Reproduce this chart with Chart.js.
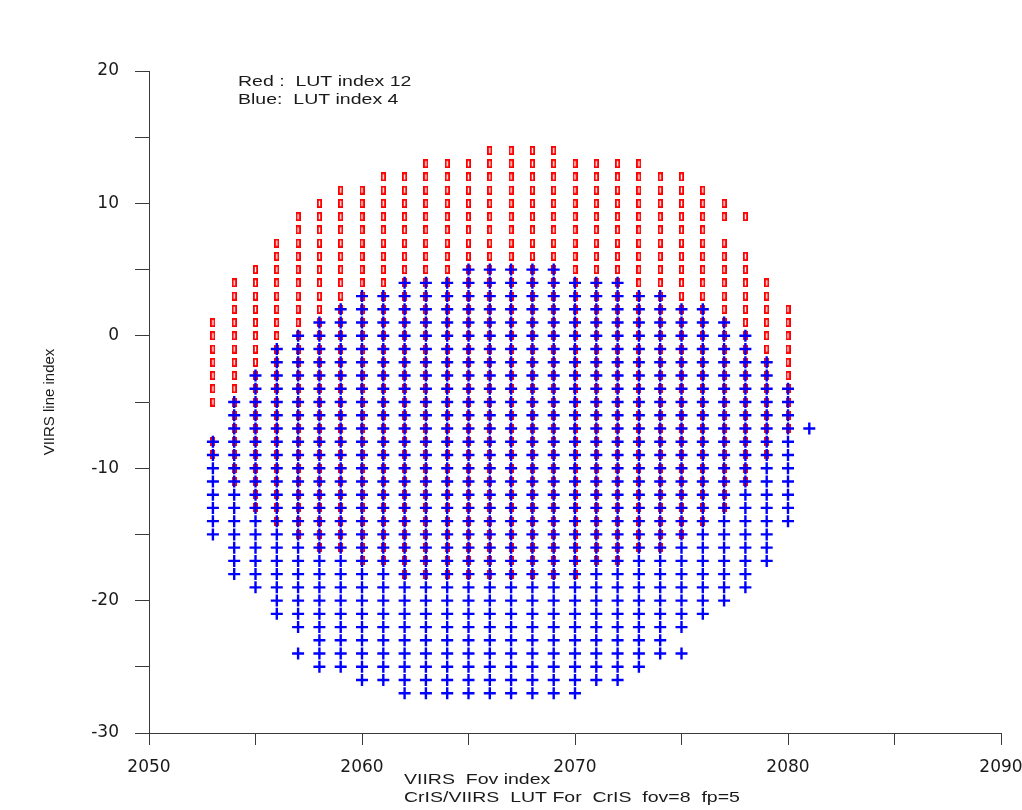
<!DOCTYPE html>
<html>
<head>
  <title>CrIS/VIIRS LUT</title>
  <script src="https://cdn.jsdelivr.net/npm/chart.js"></script>
  <style>
    body { margin: 0; background: #fff; }
    #wrap { width: 1022px; height: 810px; position: relative; }
  </style>
</head>
<body>
  <div id="wrap"><canvas id="chart"></canvas></div>

  <script>

// VIIRS fov index of each column of points
const fovIndex = [2053, 2054, 2055, 2056, 2057, 2058, 2059, 2060, 2061, 2062,
                  2063, 2064, 2065, 2066, 2067, 2068, 2069, 2070, 2071, 2072,
                  2073, 2074, 2075, 2076, 2077, 2078, 2079, 2080, 2081];

// line index runs [from, to] (every line in between is filled) per column
const redRuns = [
  [[-9, -8], [-5, 1]], [[-11, 4]], [[-13, 5]], [[-14, 7]], [[-15, 9]],
  [[-16, 10]], [[-16, 11]], [[-17, 11]], [[-17, 12]], [[-18, 12]],
  [[-18, 13]], [[-18, 13]], [[-18, 13]], [[-18, 14]], [[-18, 14]],
  [[-18, 14]], [[-18, 14]], [[-18, 13]], [[-17, 13]], [[-17, 13]],
  [[-16, 13]], [[-16, 12]], [[-15, 12]], [[-14, 11]], [[-13, 7], [9, 10]],
  [[-11, 6], [9, 9]], [[-9, 4]], [[-7, 2]], []
];
const blueRuns = [
  [[-15, -8]], [[-18, -5]], [[-19, -3]], [[-21, -1]], [[-24, -24], [-22, 0]],
  [[-25, 1]], [[-25, 2]], [[-26, 3]], [[-26, 3]], [[-27, 4]],
  [[-27, 4]], [[-27, 4]], [[-27, 5]], [[-27, 5]], [[-27, 5]],
  [[-27, 5]], [[-27, 5]], [[-27, 4]], [[-26, 4]], [[-26, 4]],
  [[-25, 3]], [[-24, 3]], [[-24, -24], [-22, 2]], [[-21, 2]], [[-20, 1]],
  [[-19, 0]], [[-17, -2]], [[-14, -4]], [[-7, -7]]
];

const legendLines = ['Red :  LUT index 12', 'Blue:  LUT index 4'];
const xTitleLines = ['VIIRS  Fov index', 'CrIS/VIIRS  LUT For  CrIS  fov=8  fp=5'];
const yTitle = 'VIIRS line index';

function toPoints(runs) {
  let pts = [];
  runs.forEach((col, i) => {
    col.forEach(r => {
      for (let y = r[0]; y <= r[1]; y++) pts.push({ x: fovIndex[i], y: y });
    });
  });
  return pts;
}

// small hollow red box used as marker
const redMark = document.createElement('canvas');
redMark.width = 5;
redMark.height = 9;
const m = redMark.getContext('2d');
m.strokeStyle = 'rgb(255,0,0)';
m.lineWidth = 1.8;
m.strokeRect(0.9, 0.9, 3.2, 7.2);

const axisColor = '#3a3a3a';
const tickFont = { family: '"DejaVu Sans"', size: 17 };

// the original picture is a bit wider than tall, so text is drawn stretched
const textStretch = 1.3;

const textPlugin = {
  id: 'textPlugin',
  afterDraw(chart) {
    const { ctx, chartArea: a } = chart;
    ctx.save();
    ctx.fillStyle = '#1a1a1a';
    ctx.font = '15px "Liberation Sans"';
    ctx.textAlign = 'left';
    ctx.textBaseline = 'middle';
    const put = (t, x, y) => {
      ctx.save();
      ctx.translate(x, y);
      ctx.scale(textStretch, 1);
      ctx.fillText(t, 0, 0);
      ctx.restore();
    };
    legendLines.forEach((t, i) => put(t, a.left + 89, a.top + 11 + i * 18));
    xTitleLines.forEach((t, i) => put(t, a.left + 255, a.bottom + 47 + i * 18));
    ctx.restore();
  }
};

new Chart(document.getElementById('chart'), {
  type: 'scatter',
  data: {
    datasets: [
      {
        label: 'Blue: LUT index 4',
        data: toPoints(blueRuns),
        pointStyle: 'cross',
        radius: 6,
        borderWidth: 2.4,
        borderColor: 'rgb(0,0,255)',
        order: 0
      },
      {
        label: 'Red: LUT index 12',
        data: toPoints(redRuns),
        pointStyle: redMark,
        order: 1
      }
    ]
  },
  options: {
    responsive: true,
    maintainAspectRatio: false,
    animation: false,
    events: [],
    layout: { padding: { top: 71, right: 21, left: 0, bottom: 0 } },
    plugins: {
      legend: { display: false },
      tooltip: { enabled: false }
    },
    scales: {
      x: {
        type: 'linear',
        min: 2050,
        max: 2090,
        afterFit: s => { s.height = 77; s.paddingLeft = 0; s.paddingRight = 0; },
        border: { display: true, color: axisColor, width: 1 },
        grid: { display: true, drawOnChartArea: false, drawTicks: true, tickLength: 12, color: axisColor },
        ticks: {
          stepSize: 5,
          autoSkip: false,
          maxRotation: 0,
          padding: 12,
          color: '#1a1a1a',
          font: tickFont,
          callback: v => (v % 10 === 0 ? v : '')
        }
      },
      y: {
        type: 'linear',
        min: -30,
        max: 20,
        afterFit: s => { s.width = 149; s.paddingTop = 0; s.paddingBottom = 0; },
        border: { display: true, color: axisColor, width: 1 },
        grid: { display: true, drawOnChartArea: false, drawTicks: true, tickLength: 14, color: axisColor },
        ticks: {
          stepSize: 5,
          autoSkip: false,
          padding: 16,
          color: '#1a1a1a',
          font: tickFont,
          callback: v => (v % 10 === 0 ? v : '')
        },
        title: {
          display: true,
          text: yTitle,
          color: '#1a1a1a',
          font: { family: '"Liberation Sans"', size: 15 },
          padding: { top: 41, bottom: 0 }
        }
      }
    }
  },
  plugins: [textPlugin]
});
  </script>
</body>
</html>
